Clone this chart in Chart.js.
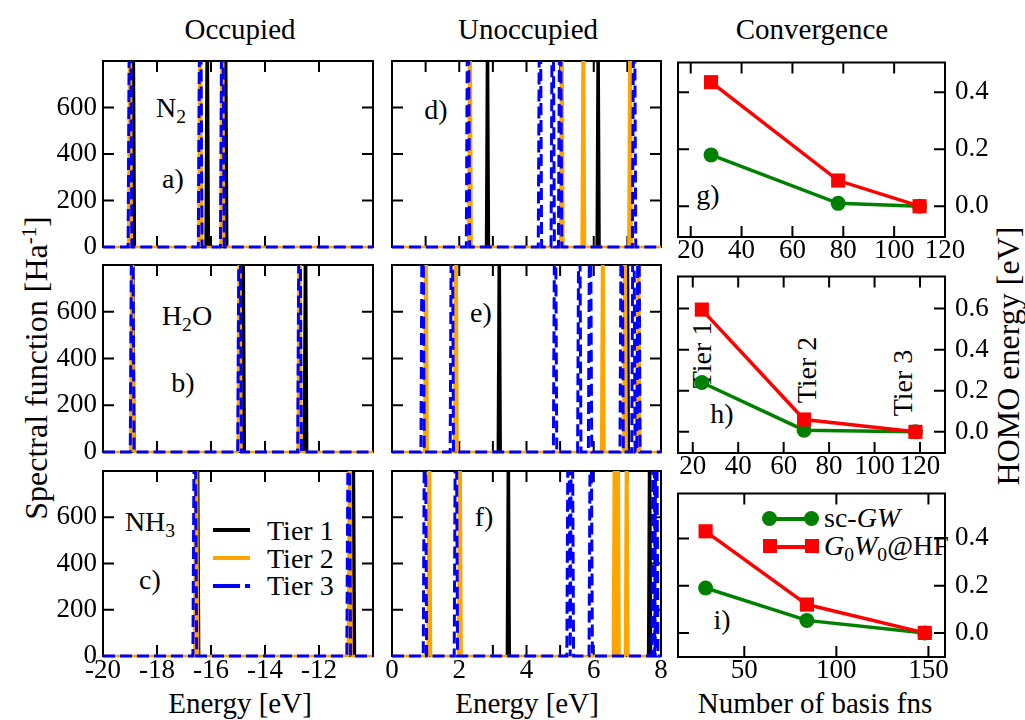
<!DOCTYPE html>
<html>
<head>
<meta charset="utf-8">
<script src="https://cdn.jsdelivr.net/npm/chart.js@4.4.1/dist/chart.umd.min.js"></script>
<style>
  body { margin: 0; background: #fff; }
  #fig { position: relative; width: 1025px; height: 720px; overflow: hidden;
         font-family: "Liberation Serif", "Times New Roman", serif; color: #000; }
  #fig canvas { position: absolute; }
  .t { position: absolute; transform: translate(-50%, -50%); white-space: nowrap; font-size: 28px; line-height: 1; }
  .big { font-size: 29px; }
  .ylab { font-size: 32px; }
  .rot { transform: translate(-50%, -50%) rotate(-90deg); }
  .sub { font-size: 70%; position: relative; top: 0.3em; }
  .sup { font-size: 65%; position: relative; top: -0.55em; }
  .leg { position: absolute; font-size: 28px; line-height: 1; white-space: nowrap; }
  .sample { position: absolute; height: 4px; }
  .dot { position: absolute; width: 15px; height: 15px; border-radius: 50%; background: #008000; }
  .sq { position: absolute; width: 14px; height: 14px; background: #ff0000; }
</style>
</head>
<body>
<div id="fig">
  <!-- column titles -->
  <div class="t big" style="left:240px;top:29px">Occupied</div>
  <div class="t big" style="left:528px;top:29px">Unoccupied</div>
  <div class="t big" style="left:812px;top:29px">Convergence</div>

  <!-- axis titles -->
  <div class="t big" style="left:240px;top:703px">Energy [eV]</div>
  <div class="t big" style="left:527px;top:703px">Energy [eV]</div>
  <div class="t big" style="left:815px;top:703px">Number of basis fns</div>
  <div class="t ylab rot" style="left:36px;top:368px">Spectral function [Ha<span class="sup">-1</span>]</div>
  <div class="t ylab rot" style="left:1008px;top:356px">HOMO energy [eV]</div>

  <!-- panel annotations -->
  <div class="t" style="left:171px;top:108px">N<span class="sub">2</span></div>
  <div class="t" style="left:173px;top:179px">a)</div>
  <div class="t" style="left:187px;top:316px">H<span class="sub">2</span>O</div>
  <div class="t" style="left:183px;top:383px">b)</div>
  <div class="t" style="left:150px;top:522px">NH<span class="sub">3</span></div>
  <div class="t" style="left:150px;top:580px">c)</div>
  <div class="t" style="left:436px;top:110px">d)</div>
  <div class="t" style="left:481px;top:313px">e)</div>
  <div class="t" style="left:484px;top:517px">f)</div>
  <div class="t" style="left:708px;top:195px">g)</div>
  <div class="t" style="left:722px;top:414px">h)</div>
  <div class="t" style="left:722px;top:620px">i)</div>
  <div class="t rot" style="left:702px;top:355px">Tier 1</div>
  <div class="t rot" style="left:807px;top:370px">Tier 2</div>
  <div class="t rot" style="left:903px;top:383px">Tier 3</div>

  <!-- legend, panel c -->
  <div class="sample" style="left:213px;top:528px;width:37px;background:#000"></div>
  <div class="leg" style="left:267px;top:517px">Tier 1</div>
  <div class="sample" style="left:213px;top:556px;width:37px;background:#ffa500"></div>
  <div class="leg" style="left:267px;top:545px">Tier 2</div>
  <div class="sample" style="left:213px;top:584px;width:37px;background:linear-gradient(to right,#0000ff 0 27px,transparent 27px 32px,#0000ff 32px 37px)"></div>
  <div class="leg" style="left:267px;top:572px">Tier 3</div>

  <!-- legend, panel i -->
  <div class="sample" style="left:770px;top:517px;width:42px;background:#008000"></div>
  <div class="dot" style="left:762px;top:511px"></div>
  <div class="dot" style="left:804px;top:511px"></div>
  <div class="leg" style="left:824px;top:504px">sc-<i>GW</i></div>
  <div class="sample" style="left:770px;top:545px;width:42px;background:#ff0000"></div>
  <div class="sq" style="left:763px;top:539px"></div>
  <div class="sq" style="left:805px;top:539px"></div>
  <div class="leg" style="left:824px;top:532px"><i>G</i><span class="sub">0</span><i>W</i><span class="sub">0</span>@HF</div>
</div>

<script>
// peak positions (eV), one list per basis tier
const n2OccTier1 = [-18.88, -16.14, -15.46];
const n2OccTier2 = [-19.0, -16.4, -15.58];
const n2OccTier3 = [-19.0, -16.4, -15.58];
const h2oOccTier1 = [-18.9, -14.81, -12.5];
const h2oOccTier2 = [-18.92, -14.94, -12.72];
const h2oOccTier3 = [-18.92, -14.94, -12.72];
const nh3OccTier1 = [-16.5, -10.73];
const nh3OccTier2 = [-16.55, -10.86];
const nh3OccTier3 = [-16.6, -10.9];

const n2UnoccTier1 = [2.84, 6.13];
const n2UnoccTier2 = [2.32, 5.05, 5.69, 7.08];
const n2UnoccTier3 = [2.26, 4.4, 4.78, 5.0, 7.2];
const h2oUnoccTier1 = [3.19, 7.0];
const h2oUnoccTier2 = [1.01, 1.9, 6.27, 6.93, 7.33];
const h2oUnoccTier3 = [0.91, 1.78, 4.85, 5.57, 5.89, 6.83, 7.18, 7.33];
const nh3UnoccTier1 = [3.46, 7.66];
const nh3UnoccTier2 = [1.11, 2.02, 6.62, 6.72, 6.98];
const nh3UnoccTier3 = [0.98, 1.9, 5.25, 5.35, 5.91, 7.78, 7.86];

// convergence of the HOMO energy
const n2Basis = [28, 78, 110];
const n2ScGW = [0.18, 0.01, 0.0];
const n2G0W0 = [0.435, 0.09, 0.0];
const h2oBasis = [24, 69, 118];
const h2oScGW = [0.24, 0.008, 0.0];
const h2oG0W0 = [0.595, 0.06, 0.0];
const nh3Basis = [29, 84, 148];
const nh3ScGW = [0.19, 0.053, 0.0];
const nh3G0W0 = [0.43, 0.12, 0.0];

// tick labels
const occTicks = [-20, -18, -16, -14, -12];
const unoccTicks = [0, 1, 2, 3, 4, 5, 6, 7, 8];
const specTicks = [0, 200, 400, 600];
const basisTicksGH = [20, 40, 60, 80, 100, 120];
const basisTicksI = [50, 100, 150];
const homoTicksGI = [0, 0.2, 0.4];
const homoTicksH = [0, 0.2, 0.4, 0.6];

const PADL = 75, PADR = 75, PADT = 22, PADB = 42, TICK = 11;
const FONT = { family: '"Liberation Serif", "Times New Roman", serif', size: 27, lineHeight: 1 };
const fig = document.getElementById('fig');

// inward ticks on all four sides + frame
const framePlugin = {
  id: 'frame',
  beforeDatasetsDraw(chart) {
    const { ctx, chartArea: a, scales: { x, y } } = chart;
    ctx.save();
    ctx.strokeStyle = '#000';
    ctx.lineWidth = 2;
    ctx.beginPath();
    x.ticks.forEach(t => {
      const p = x.getPixelForValue(t.value);
      ctx.moveTo(p, a.bottom); ctx.lineTo(p, a.bottom - TICK);
      ctx.moveTo(p, a.top); ctx.lineTo(p, a.top + TICK);
    });
    y.ticks.forEach(t => {
      const p = y.getPixelForValue(t.value);
      ctx.moveTo(a.left, p); ctx.lineTo(a.left + TICK, p);
      ctx.moveTo(a.right, p); ctx.lineTo(a.right - TICK, p);
    });
    ctx.stroke();
    ctx.strokeRect(a.left, a.top, a.right - a.left, a.bottom - a.top);
    ctx.restore();
  }
};

// peaks run off the top of the plot, so draw each as a narrow spike
const PEAK_TOP = 1500;
function spikes(peaks, xmin, xmax, w) {
  const pts = [{ x: xmin, y: 0 }];
  peaks.slice().sort((a, b) => a - b).forEach(c => {
    pts.push({ x: c - w, y: 0 }, { x: c, y: PEAK_TOP }, { x: c + w, y: 0 });
  });
  pts.push({ x: xmax, y: 0 });
  return pts;
}

function addPanel(box, o) {
  const c = document.createElement('canvas');
  c.width = box.r - box.l + PADL + PADR;
  c.height = box.b - box.t + PADT + PADB;
  c.style.left = (box.l - PADL) + 'px';
  c.style.top = (box.t - PADT) + 'px';
  fig.appendChild(c);
  const left = o.ypos === 'left';
  new Chart(c, {
    type: 'line',
    data: { datasets: o.datasets },
    options: {
      responsive: false, animation: false, devicePixelRatio: 1,
      layout: { padding: { left: left ? 0 : PADL, right: left ? PADR : 0, top: PADT, bottom: 0 } },
      plugins: { legend: { display: false }, tooltip: { enabled: false } },
      scales: {
        x: {
          type: 'linear', min: o.xmin, max: o.xmax, position: 'bottom',
          afterBuildTicks: s => { s.ticks = o.xticks.map(v => ({ value: v })); },
          afterFit: s => { s.height = PADB; },
          grid: { display: false, drawTicks: false }, border: { display: false },
          ticks: { display: o.xlabels, padding: o.xpad, font: FONT, color: '#000', maxRotation: 0,
                   autoSkip: false, callback: v => (o.xfmt ? o.xfmt(v) : String(v)) }
        },
        y: {
          type: 'linear', min: o.ymin, max: o.ymax, position: o.ypos,
          afterBuildTicks: s => { s.ticks = o.yticks.map(v => ({ value: v })); },
          afterFit: s => { s.width = left ? PADL : PADR; },
          grid: { display: false, drawTicks: false }, border: { display: false },
          ticks: { display: o.ylabels, padding: left ? 6 : 10, font: FONT, color: '#000',
                   autoSkip: false, callback: v => (o.yfmt ? o.yfmt(v) : String(v)) }
        }
      }
    },
    plugins: [framePlugin]
  });
}

function specSets(t1, t2, t3, xmin, xmax, w) {
  const clip = { left: 2, right: 2, top: 0, bottom: 4 };
  return [
    { data: spikes(t1, xmin, xmax, w), borderColor: '#000', backgroundColor: '#000', fill: 'origin',
      borderWidth: 2, pointRadius: 0, tension: 0, clip, order: 3 },
    { data: spikes(t2, xmin, xmax, w), borderColor: '#ffa500', backgroundColor: '#ffa500', fill: 'origin',
      borderWidth: 2.5, pointRadius: 0, tension: 0, clip, order: 2 },
    { data: spikes(t3, xmin, xmax, w), borderColor: '#0000ff', borderWidth: 3, borderDash: [12, 5],
      pointRadius: 0, tension: 0, clip, order: 1 }
  ];
}

function convSets(xs, sc, g0) {
  return [
    { data: xs.map((x, i) => ({ x, y: g0[i] })), borderColor: '#ff0000', backgroundColor: '#ff0000',
      borderWidth: 3.5, pointStyle: 'rect', pointRadius: 10, pointBorderWidth: 0, tension: 0, clip: false, order: 1 },
    { data: xs.map((x, i) => ({ x, y: sc[i] })), borderColor: '#008000', backgroundColor: '#008000',
      borderWidth: 3.5, pointStyle: 'circle', pointRadius: 7.5, pointBorderWidth: 0, tension: 0, clip: false, order: 2 }
  ];
}

const occCol = { l: 103, r: 373 }, unoccCol = { l: 392, r: 661 }, convCol = { l: 678, r: 945 };
const rows = [{ t: 61, b: 247 }, { t: 265, b: 452 }, { t: 471, b: 656 }];
const convRows = [{ t: 61, b: 237 }, { t: 275, b: 453 }, { t: 492, b: 657 }];

const occData = [[n2OccTier1, n2OccTier2, n2OccTier3], [h2oOccTier1, h2oOccTier2, h2oOccTier3], [nh3OccTier1, nh3OccTier2, nh3OccTier3]];
const unoccData = [[n2UnoccTier1, n2UnoccTier2, n2UnoccTier3], [h2oUnoccTier1, h2oUnoccTier2, h2oUnoccTier3], [nh3UnoccTier1, nh3UnoccTier2, nh3UnoccTier3]];

rows.forEach((row, i) => {
  const last = i === 2;
  addPanel({ ...occCol, ...row }, {
    xmin: -20, xmax: -10, xticks: occTicks, xlabels: last, xpad: 1,
    ymin: 0, ymax: 800, yticks: specTicks, ypos: 'left', ylabels: true,
    datasets: specSets(...occData[i], -20, -10, 0.07)
  });
  addPanel({ ...unoccCol, ...row }, {
    xmin: 0, xmax: 8, xticks: unoccTicks, xlabels: last, xpad: 1, xfmt: v => (v % 2 === 0 ? String(v) : ''),
    ymin: 0, ymax: 800, yticks: specTicks, ypos: 'left', ylabels: false,
    datasets: specSets(...unoccData[i], 0, 8, 0.05)
  });
});

const fmt1 = v => v.toFixed(1);
addPanel({ ...convCol, ...convRows[0] }, {
  xmin: 15, xmax: 120, xticks: basisTicksGH, xlabels: true, xpad: 0,
  ymin: -0.108, ymax: 0.504, yticks: homoTicksGI, ypos: 'right', ylabels: true, yfmt: fmt1,
  datasets: convSets(n2Basis, n2ScGW, n2G0W0)
});
addPanel({ ...convCol, ...convRows[1] }, {
  xmin: 13.5, xmax: 131, xticks: basisTicksGH, xlabels: true, xpad: 0,
  ymin: -0.103, ymax: 0.756, yticks: homoTicksH, ypos: 'right', ylabels: true, yfmt: fmt1,
  datasets: convSets(h2oBasis, h2oScGW, h2oG0W0)
});
addPanel({ ...convCol, ...convRows[2] }, {
  xmin: 14, xmax: 159, xticks: basisTicksI, xlabels: true, xpad: 0,
  ymin: -0.102, ymax: 0.59, yticks: homoTicksGI, ypos: 'right', ylabels: true, yfmt: fmt1,
  datasets: convSets(nh3Basis, nh3ScGW, nh3G0W0)
});
</script>
</body>
</html>
